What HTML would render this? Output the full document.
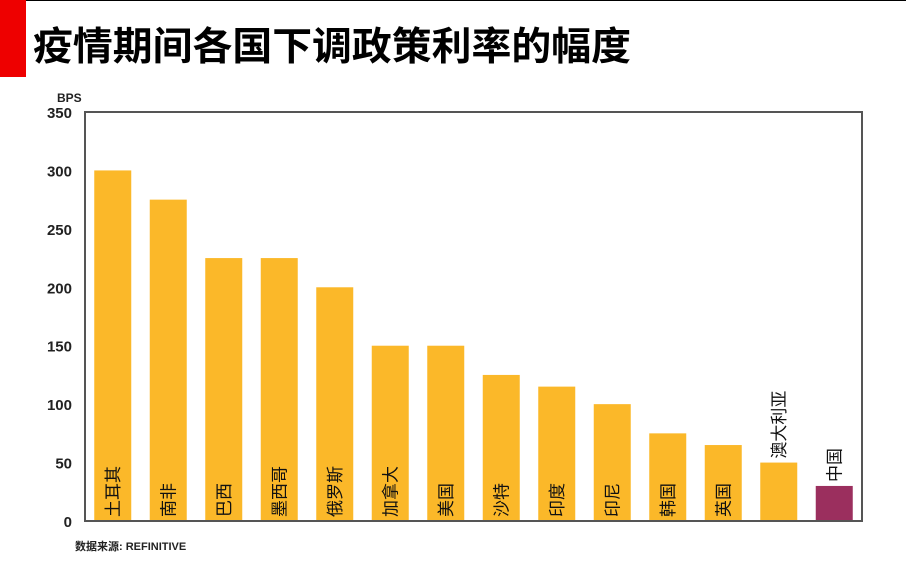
<!DOCTYPE html>
<html><head><meta charset="utf-8"><style>
body{margin:0;width:906px;height:568px;background:#fff;overflow:hidden;font-family:"Liberation Sans","Noto Sans CJK SC",sans-serif}
</style></head><body>
<svg width="906" height="568" viewBox="0 0 906 568">
<line x1="0" y1="0.5" x2="906" y2="0.5" stroke="#000" stroke-width="1"/>
<rect x="0" y="0" width="26" height="77" fill="#ee0000"/>
<text x="33" y="60" font-size="39" font-weight="bold" font-family="Liberation Sans, Noto Sans CJK SC, sans-serif" fill="#000" textLength="598" lengthAdjust="spacingAndGlyphs">疫情期间各国下调政策利率的幅度</text>
<text x="57" y="102" font-size="12" font-weight="bold" fill="#222">BPS</text>
<g id="yaxis"></g>
<g id="bars"></g>
<rect x="85" y="112" width="777" height="409" fill="none" stroke="#555" stroke-width="2"/>
<text x="75" y="550" font-size="11" font-weight="bold" fill="#222">数据来源: REFINITIVE</text>
</svg>
<script>
const categories=["土耳其","南非","巴西","墨西哥","俄罗斯","加拿大","美国","沙特","印度","印尼","韩国","英国","澳大利亚","中国"];
const values=[300,275,225,225,200,150,150,125,115,100,75,65,50,30];
const ticks=[0,50,100,150,200,250,300,350];
const NS="http://www.w3.org/2000/svg";
const X0=85,X1=862,Y0=521,Y1=112,YMAX=350;
const band=(X1-X0)/categories.length;
function y(v){return Y0-(v/YMAX)*(Y0-Y1);}
function xc(i){return X0+band*(i+0.5);}
const ya=document.getElementById('yaxis');
ticks.forEach(t=>{
 const tx=document.createElementNS(NS,'text');
 
 
 tx.setAttribute('x',72);tx.setAttribute('y',y(t)+6);
 tx.setAttribute('text-anchor','end');tx.setAttribute('font-size','15');
 tx.setAttribute('font-weight','bold');tx.setAttribute('fill','#222');
 tx.textContent=t;ya.appendChild(tx);
});
const g=document.getElementById('bars');
categories.forEach((c,i)=>{
 const w=37,top=y(values[i]);
 const r=document.createElementNS(NS,'rect');
 
 
 r.setAttribute('x',xc(i)-w/2);r.setAttribute('y',top);
 r.setAttribute('width',w);r.setAttribute('height',Y0-top);
 r.setAttribute('fill',i===categories.length-1?'#9b2f5e':'#fbb829');
 g.appendChild(r);
 const outside=(Y0-top)<c.length*17+8;
 const by=outside?top-4:Y0-4;
 const t=document.createElementNS(NS,'text');
 
 
 t.setAttribute('transform','translate('+(xc(i)+6)+','+by+') rotate(-90)');
 t.setAttribute('font-size','17');t.setAttribute('fill','#111');
 t.textContent=c;g.appendChild(t);
});
</script>
</body></html>
